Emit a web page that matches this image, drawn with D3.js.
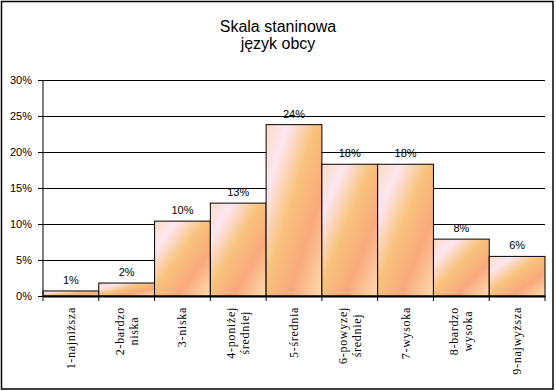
<!DOCTYPE html>
<html><head><meta charset="utf-8">
<script src="https://cdn.jsdelivr.net/npm/d3@7/dist/d3.min.js"></script>
<style>body{margin:0;background:#fff}svg{display:block}</style>
</head><body>
<svg id="c" width="556" height="391"></svg>
<script>
const titleLines = ["Skala staninowa", "język obcy"];
const categories = [
  ["1-najniższa"], ["2-bardzo", "niska"], ["3-niska"], ["4-poniżej", "średniej"],
  ["5-średnia"], ["6-powyzej", "średniej"], ["7-wysoka"], ["8-bardzo", "wysoka"], ["9-najwyższa"]
];
const values = [0.7, 1.8, 10.4, 12.9, 23.8, 18.3, 18.3, 7.9, 5.5];
const valueLabels = ["1%", "2%", "10%", "13%", "24%", "18%", "18%", "8%", "6%"];
const yTicks = [0, 5, 10, 15, 20, 25, 30];

(function () {
const svg = d3.select("#c");
const L = 43, R = 545, T = 80, B = 296;
const x = d3.scaleBand().domain(d3.range(categories.length)).range([L, R]).padding(0);
const y = d3.scaleLinear().domain([0, 30]).range([B, T]);

const defs = svg.append("defs");
const g = defs.append("linearGradient").attr("id", "peach")
  .attr("x1", 0).attr("y1", 0).attr("x2", 1).attr("y2", 1);
[[0, "#fbdcc4"], [0.2, "#fce6f0"], [0.45, "#f9c37c"], [0.7, "#f8a97c"], [1, "#fddcae"]]
  .forEach(([o, c]) => g.append("stop").attr("offset", o).attr("stop-color", c));

// outer border
svg.append("rect").attr("x", 1.5).attr("y", 1.5).attr("width", 551.5).attr("height", 387.5)
  .attr("fill", "none").attr("stroke", "#000").attr("stroke-width", 1.5);

// title
svg.append("text").attr("x", 278).attr("y", 0)
  .attr("font-family", "Liberation Sans, Arial").attr("font-size", 16).attr("text-anchor", "middle")
  .selectAll("tspan").data(titleLines).join("tspan")
  .attr("x", 278).attr("y", (d, i) => 32 + i * 17).text(d => d);

// y axis with gridlines
const yAxis = d3.axisLeft(y).tickValues(yTicks).tickFormat(d => d + "%").tickSize(-(R - L)).tickPadding(12);
const ya = svg.append("g").attr("transform", `translate(${L},0)`).call(yAxis);
ya.select(".domain").remove();
ya.selectAll(".tick line").attr("stroke", "#000").attr("x1", -5).attr("stroke-width", 1);
ya.selectAll(".tick text").attr("font-family", "Liberation Sans, Arial").attr("font-size", 11).attr("fill", "#000").attr("x", -11);

// bars
svg.append("g").selectAll("rect").data(values).join("rect")
  .attr("x", (d, i) => x(i)).attr("y", d => y(d))
  .attr("width", x.bandwidth()).attr("height", d => B - y(d))
  .attr("fill", "url(#peach)").attr("stroke", "#000").attr("stroke-width", 1);

// axis lines
svg.append("line").attr("x1", L).attr("x2", L).attr("y1", T).attr("y2", B).attr("stroke", "#000");
const xAxis = d3.axisBottom(x).tickSize(0).tickFormat("");
const xa = svg.append("g").attr("transform", `translate(0,${B})`).call(xAxis);
xa.select(".domain").attr("stroke-width", 2);
xa.selectAll(".tick").remove();
svg.append("g").selectAll("line").data(d3.range(categories.length + 1)).join("line")
  .attr("x1", i => i < categories.length ? x(i) : x(i - 1) + x.bandwidth())
  .attr("x2", i => i < categories.length ? x(i) : x(i - 1) + x.bandwidth())
  .attr("y1", B).attr("y2", B + 5).attr("stroke", "#000");

// value labels
svg.append("g").selectAll("text").data(values).join("text")
  .attr("x", (d, i) => x(i) + x.bandwidth() / 2).attr("y", d => y(d) - 7)
  .attr("text-anchor", "middle").attr("font-family", "Liberation Sans, Arial").attr("font-size", 11)
  .text((d, i) => valueLabels[i]);

// category labels (rotated)
const labelTop = 307;
categories.forEach((lines, i) => {
  const cx = x(i) + x.bandwidth() / 2;
  const grp = svg.append("g").attr("transform", `translate(${cx},${labelTop}) rotate(-90)`);
  const n = lines.length;
  const ts = grp.selectAll("text").data(lines).join("text")
    .attr("font-family", "Liberation Serif, Times New Roman").attr("font-size", 12)
    .attr("letter-spacing", 0.7)
    .attr("text-anchor", "middle").attr("dominant-baseline", "central")
    .attr("y", (d, j) => (j - (n - 1) / 2) * 14)
    .text(d => d);
  let maxLen = 0;
  ts.each(function () { maxLen = Math.max(maxLen, this.getComputedTextLength()); });
  ts.attr("x", -maxLen / 2);
});
})();
</script>
</body></html>
